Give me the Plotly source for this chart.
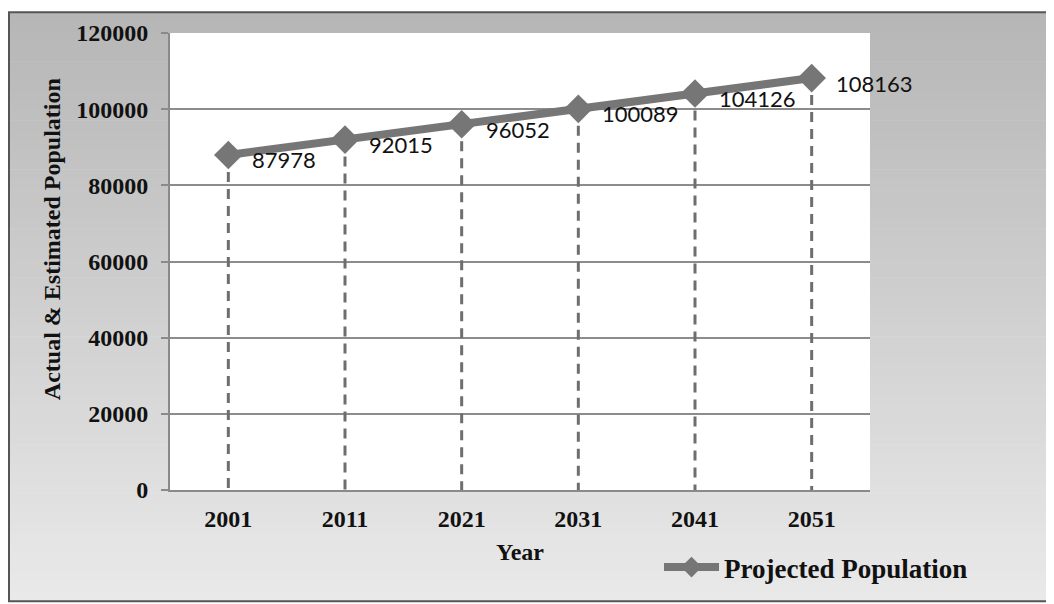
import plotly.graph_objects as go

years = ["2001", "2011", "2021", "2031", "2041", "2051"]
population = [87978, 92015, 96052, 100089, 104126, 108163]
y_ticks = [0, 20000, 40000, 60000, 80000, 100000, 120000]

OFF = 8  # page body margin
W, H = 1054 - OFF, 604 - OFF
L, R, T, B = 170, 870, 30, 490   # page coords of plot area
pw, ph = R - L, B - T

def px(x):
    return (x - L) / pw

def py(y):
    return (B - y) / ph

fig = go.Figure()

# drop lines
dx, dy = [], []
for yr, v in zip(years, population):
    dx += [yr, yr, None]
    dy += [v, 0, None]
fig.add_trace(go.Scatter(x=dx, y=dy, mode="lines", showlegend=False, hoverinfo="skip",
                         line=dict(color="#6e6e6e", width=3, dash="10px,7px")))

fig.add_trace(go.Scatter(x=years, y=population, mode="lines+markers", name="Projected Population",
                         line=dict(color="#767676", width=8),
                         marker=dict(symbol="diamond", size=22, color="#767676")))

# data labels
for i, v in enumerate(population):
    fig.add_annotation(x=i, y=v, text=str(v), showarrow=False, xanchor="left",
                       xshift=22, yshift=-5,
                       font=dict(family="Lato", size=22, color="#111111"))

# y-axis title (placed as in the reference, slightly above plot centre)
fig.add_annotation(xref="paper", yref="paper", x=px(52), y=py(237.5), xanchor="center", yanchor="middle",
                   text="Actual & Estimated Population", textangle=-90, showarrow=False,
                   font=dict(family="Liberation Serif", size=24, color="#111111", weight="bold"))

# background gradient
shapes = []
x0, x1, y0, y1 = OFF + 1, 1050, OFF + 1, 602
n = 60
top_c, bot_c = 0xb6, 0xea
for i in range(n):
    ya = y0 + (y1 - y0) * i / n
    yb = y0 + (y1 - y0) * (i + 1) / n + 0.6
    c = int(top_c + (bot_c - top_c) * (i + 0.5) / n)
    col = f"rgb({c},{c},{c})"
    shapes.append(dict(type="rect", xref="paper", yref="paper", layer="below",
                       x0=px(x0), x1=px(x1), y0=py(min(yb, y1)), y1=py(ya),
                       fillcolor=col, line=dict(width=0)))
# plot area white
shapes.append(dict(type="rect", xref="paper", yref="paper", layer="below",
                   x0=0, x1=1, y0=0, y1=1, fillcolor="white", line=dict(width=0)))
# outer border
shapes.append(dict(type="rect", xref="paper", yref="paper", layer="above",
                   x0=px(x0), x1=px(x1), y0=py(y1), y1=py(y0),
                   fillcolor="rgba(0,0,0,0)", line=dict(color="#555555", width=2)))

fig.update_layout(
    width=W, height=H,
    margin=dict(l=L - OFF, r=W - (R - OFF), t=T - OFF, b=H - (B - OFF)),
    paper_bgcolor="white",
    plot_bgcolor="rgba(0,0,0,0)",
    shapes=shapes,
    font=dict(family="Liberation Serif", color="#111111"),
    showlegend=True,
    legend=dict(x=px(659), y=py(568), xanchor="left", yanchor="middle",
                bgcolor="rgba(0,0,0,0)", itemwidth=55,
                font=dict(family="Liberation Serif", size=27, color="#111111", weight="bold")),
    xaxis=dict(type="category", range=[-0.5, 5.5], showgrid=False,
               showline=True, linecolor="#8a8a8a", linewidth=2,
               ticks="", tickfont=dict(size=24, weight="bold"), ticklabelstandoff=6,
               title=dict(text="Year", font=dict(size=24, weight="bold"), standoff=12)),
    yaxis=dict(range=[0, 120000], tickvals=y_ticks, ticktext=[str(v) for v in y_ticks],
               showgrid=True, gridcolor="#8c8c8c", gridwidth=1.5,
               showline=True, linecolor="#8a8a8a", linewidth=2,
               ticks="outside", ticklen=7, tickcolor="#8a8a8a", tickwidth=1.5,
               tickfont=dict(size=24, weight="bold"), zeroline=False, ticklabelstandoff=8),
)

fig.write_html("out.html")
